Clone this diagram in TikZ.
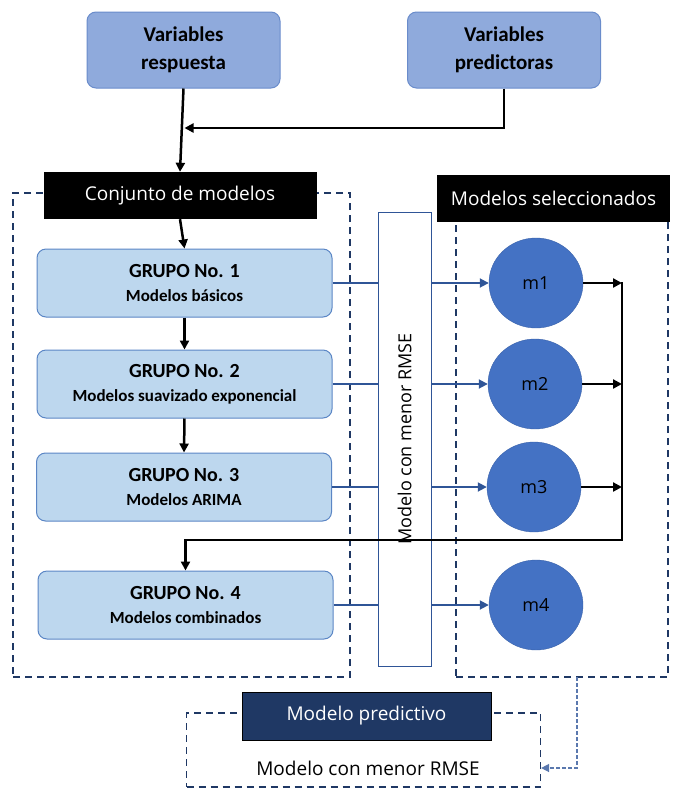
\documentclass[tikz,border=0pt]{standalone}
\usepackage{fontspec}
\setmainfont{Carlito}
\newfontfamily\segoe{Open Sans}
\usetikzlibrary{arrows.meta,shapes.geometric}

\definecolor{inputblue}{HTML}{8FAADC}
\definecolor{inputedge}{HTML}{6A8CCB}
\definecolor{groupblue}{HTML}{BDD7EE}
\definecolor{groupedge}{HTML}{5B86C5}
\definecolor{modelblue}{HTML}{4472C4}
\definecolor{modeledge}{HTML}{3A62AA}
\definecolor{framenavy}{HTML}{1F3864}
\definecolor{linkblue}{HTML}{2F5597}
\definecolor{dotblue}{HTML}{5A78AE}

\tikzset{input box/.style={draw=inputedge,fill=inputblue,rounded corners=9pt,line width=1pt,minimum width=193,minimum height=76,align=center,font=\fontsize{21}{28}\selectfont\bfseries},
group box/.style={draw=groupedge,fill=groupblue,rounded corners=9pt,line width=1pt,minimum width=295,minimum height=68,align=center,inner sep=0pt,font=\fontsize{17}{24}\selectfont\bfseries},
black header/.style={fill=black,text=white,minimum height=47,font=\segoe\fontsize{19}{22}\selectfont},
navy header/.style={draw=black,fill=framenavy,text=white,minimum height=48,line width=0.8pt,font=\segoe\fontsize{19}{22}\selectfont},
model/.style={ellipse,draw=modeledge,fill=modelblue,minimum width=94,minimum height=90,font=\segoe\fontsize{18}{20}\selectfont},
frame/.style={draw=framenavy,dash pattern=on 7pt off 5pt,line width=1.2pt,inner sep=0pt},
flow/.style={line width=2.5pt,-{Triangle[length=9pt,width=9pt]}},
flow line/.style={line width=2.5pt},
link/.style={draw=linkblue,line width=1.8pt},
link arrow/.style={draw=linkblue,line width=1.8pt,-{Triangle[length=9pt,width=9pt]}},
back link/.style={draw=dotblue,line width=1.4pt,dash pattern=on 4pt off 2pt,-{Triangle[length=8pt,width=8pt]}}}

\newcommand{\grupo}[2]{{\fontsize{20}{24}\selectfont #1}\\#2}

\begin{document}
\begin{tikzpicture}[x=1pt,y=-1pt]
\useasboundingbox (0,0) rectangle (675,796);

%% dashed frames
\node [frame,minimum width=337,minimum height=484] (leftframe) at (181.5,435) {};
\node [frame,minimum width=212,minimum height=482] (rightframe) at (562,436) {};
\node [frame,minimum width=354,minimum height=74] (predframe) at (363.5,750) {};

%% input variables
\node [input box] (resp) at (183.5,50) {Variables\\respuesta};
\node [input box] (pred) at (504,50) {Variables\\predictoras};

%% headers
\node [black header,minimum width=273] (conj) at (180,195.5) {Conjunto de modelos};
\node [black header,minimum width=233] (sel) at (553.5,198) {Modelos seleccionados};
\node [navy header,minimum width=249] (predhead) at (366.5,716) {Modelo predictivo};

%% groups of models
\node [group box] (g1) at (184.5,283) {\grupo{GRUPO No. 1}{Modelos básicos}};
\node [group box] (g2) at (184.5,384) {\grupo{GRUPO No. 2}{Modelos suavizado exponencial}};
\node [group box] (g3) at (184,487) {\grupo{GRUPO No. 3}{Modelos ARIMA}};
\node [group box] (g4) at (185.5,605) {\grupo{GRUPO No. 4}{Modelos combinados}};

%% selection filter
\node [draw=linkblue,fill=white,line width=1pt,minimum width=53,minimum height=454,inner sep=0pt] (rmse) at (404.5,439) {};
\node [rotate=90,font=\segoe\fontsize{18}{20}\selectfont] (rmsetext) at (rmse.center) {Modelo con menor RMSE};

%% selected models
\node [model] (m1) at (536,283) {m1};
\node [model] (m2) at (535,384) {m2};
\node [model] (m3) at (534,487) {m3};
\node [model] (m4) at (536,605) {m4};

%% result
\node [font=\segoe\fontsize{19}{22}\selectfont] (best) at (368,768) {Modelo con menor RMSE};

%% coordinates of the joins
\coordinate (join) at (183.5,128);
\coordinate (col) at (622,540);
\coordinate (selbot) at (577,677);

%% top arrows
\draw [flow line] (pred.south) |- ([xshift=8pt]join);
\draw [flow] (pred.south |- join) -- ([xshift=1pt]join);
\draw [flow] (resp.south) -- (conj.north);
\draw [flow] (conj.south) -- (g1.north);
\draw [flow] (g1.south) -- (g2.north);
\draw [flow] (g2.south) -- (g3.north);

%% group to filter to model
\foreach \g/\m in {g1/m1,g2/m2,g3/m3,g4/m4}{
  \draw [link] (\g.east) -- (\g.east -| rmse.west);
  \draw [link arrow] (\g.east -| rmse.east) -- (\m.west);
}

%% models back to group 4
\foreach \m in {m1,m2,m3}{
  \draw [flow] (\m.east) -- (\m.east -| col);
}
\draw [flow line,line cap=rect] (m1.east -| col) -- (col);
\draw [flow] (col) -- (col -| g4.north) -- (g4.north);

%% selected models to predictive model
\draw [back link] (selbot) |- (predframe.east |- best);

\end{tikzpicture}
\end{document}
